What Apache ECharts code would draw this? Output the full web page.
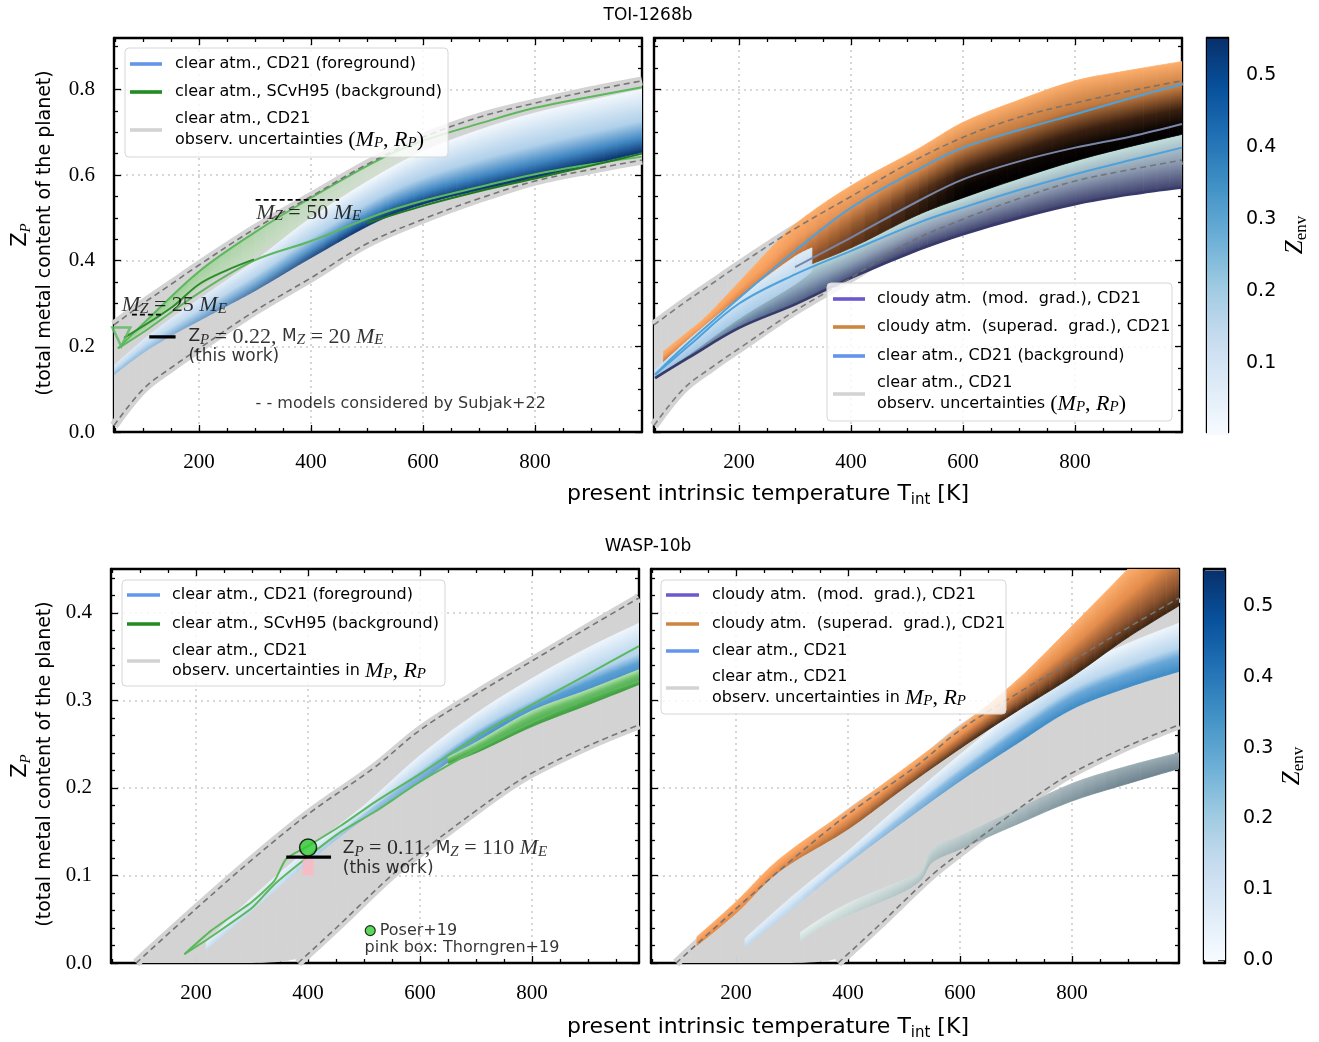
<!DOCTYPE html>
<html>
<head>
<meta charset="utf-8">
<title>TOI-1268b / WASP-10b</title>
<script src="https://cdn.jsdelivr.net/npm/echarts@6/dist/echarts.min.js"></script>
<style>
  html, body { margin: 0; padding: 0; background: #fff; }
  #chart { width: 1319px; height: 1042px; }
</style>
</head>
<body>
<div id="chart"></div>
<script>
  /******************/
  //region    //data

  // tick values
  const tempMajor = [200, 400, 600, 800];
  const tempMinor = [50, 100, 150, 250, 300, 350, 450, 500, 550, 650, 700, 750, 850, 900, 950];
  const zTopMajor = [0, 0.2, 0.4, 0.6, 0.8];
  const zTopMinor = [0.05, 0.1, 0.15, 0.25, 0.3, 0.35, 0.45, 0.5, 0.55, 0.65, 0.7, 0.75, 0.85, 0.9];
  const zBotMajor = [0, 0.1, 0.2, 0.3, 0.4];
  const zBotMinor = [0.02, 0.04, 0.06, 0.08, 0.12, 0.14, 0.16, 0.18, 0.22, 0.24, 0.26, 0.28, 0.32, 0.34, 0.36, 0.38, 0.42, 0.44];
  const zenvTopMajor = [0.1, 0.2, 0.3, 0.4, 0.5];
  const zenvBotMajor = [0, 0.1, 0.2, 0.3, 0.4, 0.5];
  const zenvMinor = [0.02, 0.04, 0.06, 0.08, 0.12, 0.14, 0.16, 0.18, 0.22, 0.24, 0.26, 0.28, 0.32, 0.34, 0.36, 0.38, 0.42, 0.44, 0.46, 0.48, 0.52, 0.54];

  // TOI-1268b: models considered by Subjak+22 (dashed) / observ. uncertainties
  const toiSubjakT = [48, 100, 150, 200, 300, 400, 500, 600, 700, 800, 900, 991];
  const toiSubjakHi = [0.25, 0.30, 0.345, 0.39, 0.475, 0.55, 0.625, 0.688, 0.735, 0.768, 0.797, 0.82];
  const toiSubjakLo = [0.015, 0.10, 0.15, 0.195, 0.283, 0.36, 0.44, 0.497, 0.545, 0.586, 0.613, 0.635];

  // TOI-1268b, left: clear atm. CD21 (foreground) family
  const toiClearT = [48, 100, 150, 200, 250, 300, 400, 520, 600, 700, 800, 900, 991];
  const toiClearHi = [0.155, 0.215, 0.265, 0.31, 0.355, 0.40, 0.50, 0.60, 0.655, 0.705, 0.745, 0.775, 0.80];
  const toiClearLo = [0.134, 0.185, 0.225, 0.26, 0.295, 0.33, 0.407, 0.493, 0.532, 0.565, 0.594, 0.625, 0.653];

  // TOI-1268b, left: SCvH95 (background)
  const toiScvhShadeT = [55, 108, 200, 298, 400, 520, 600];
  const toiScvhShadeHi = [0.195, 0.263, 0.375, 0.465, 0.547, 0.635, 0.68];
  const toiScvhShadeLo = [0.195, 0.245, 0.335, 0.41, 0.49, 0.57, 0.62];
  const toiScvhTopT = [55, 108, 200, 298, 400, 520, 600, 700, 800, 900, 991];
  const toiScvhTop = [0.195, 0.263, 0.375, 0.465, 0.547, 0.635, 0.68, 0.72, 0.757, 0.783, 0.805];
  const toiScvhLowT = [55, 108, 200, 298, 400, 520, 600, 700, 800, 900, 991];
  const toiScvhLow = [0.195, 0.24, 0.325, 0.40, 0.446, 0.508, 0.54, 0.572, 0.602, 0.625, 0.643];
  const toiScvhDarkT = [66, 150, 200, 250, 298];
  const toiScvhDark = [0.22, 0.29, 0.345, 0.378, 0.403];
  const toiScvhBotT = [500, 600, 700, 800, 900, 991];
  const toiScvhBot = [0.488, 0.528, 0.562, 0.592, 0.622, 0.65];

  // TOI-1268b reference levels
  const toiMz50T = [301, 450], toiMz50 = [0.542, 0.542];
  const toiMz25T = [80, 137], toiMz25 = [0.274, 0.274];
  const toiThisWorkT = [111, 158], toiThisWork = [0.222, 0.222];
  const toiScvhStart = [[61, 0.222]];

  // TOI-1268b, right: cloudy superad. grad.
  const toiSuperT = [65, 100, 139, 200, 250, 300, 400, 521, 600, 700, 800, 900, 991];
  const toiSuperHi = [0.188, 0.225, 0.267, 0.35, 0.42, 0.485, 0.575, 0.662, 0.723, 0.775, 0.82, 0.845, 0.865];
  const toiSuperLo = [0.16, 0.195, 0.235, 0.30, 0.34, 0.376, 0.43, 0.508, 0.547, 0.592, 0.633, 0.667, 0.695];
  // TOI-1268b, right: cloudy mod. grad.
  const toiModT = [50, 109, 200, 300, 400, 521, 600, 700, 800, 900, 991];
  const toiModHi = [0.14, 0.19, 0.28, 0.37, 0.43, 0.508, 0.547, 0.592, 0.633, 0.667, 0.695];
  const toiModLo = [0.126, 0.173, 0.243, 0.298, 0.36, 0.426, 0.462, 0.50, 0.532, 0.555, 0.571];
  const toiModTopT = [300, 400, 521, 600, 700, 800, 900, 991];
  const toiModTop = [0.385, 0.454, 0.54, 0.59, 0.632, 0.664, 0.69, 0.719];
  // TOI-1268b, right: clear atm. CD21 (background)
  const toiBgPaleT = [50, 109, 200, 300, 330];
  const toiBgPaleHi = [0.145, 0.215, 0.313, 0.41, 0.43];
  const toiBgPaleLo = [0.13, 0.18, 0.265, 0.345, 0.375];
  const toiBgUpT = [50, 80, 139, 200, 300, 400, 521, 600, 700, 800, 900, 991];
  const toiBgUp = [0.134, 0.173, 0.243, 0.313, 0.423, 0.524, 0.614, 0.664, 0.705, 0.742, 0.78, 0.812];
  const toiBgLowT = [50, 109, 200, 300, 400, 521, 600, 700, 800, 900, 991];
  const toiBgLow = [0.134, 0.20, 0.30, 0.368, 0.423, 0.489, 0.524, 0.565, 0.602, 0.635, 0.664];

  // WASP-10b: observ. uncertainties and the dashed bounds
  const waspDashHiT = [93, 200, 300, 400, 520, 600, 700, 800, 900, 991];
  const waspDashHi = [0.0, 0.062, 0.118, 0.17, 0.224, 0.266, 0.307, 0.345, 0.383, 0.417];
  const waspGrayLo = [0, 0, 0, 0.011, 0.083, 0.126, 0.174, 0.217, 0.248, 0.272];
  const waspDashLoT = [382, 450, 549, 600, 700, 757, 800, 900, 991];
  const waspDashLo = [0.0, 0.04, 0.1, 0.126, 0.174, 0.2, 0.217, 0.248, 0.272];

  // WASP-10b, left
  const waspClearT = [218, 300, 400, 500, 600, 700, 800, 900, 991];
  const waspClearHi = [0.024, 0.075, 0.13, 0.18, 0.237, 0.285, 0.325, 0.36, 0.388];
  const waspClearLo = [0.015, 0.06, 0.115, 0.165, 0.207, 0.25, 0.28, 0.305, 0.325];
  const waspScvhAT = [179, 227, 300, 340, 361, 401, 459, 520, 600, 700, 800, 900, 991];
  const waspScvhA = [0.01, 0.037, 0.07, 0.094, 0.119, 0.134, 0.157, 0.184, 0.216, 0.258, 0.295, 0.33, 0.362];
  const waspScvhBT = [179, 227, 300, 340, 401, 459, 520, 600, 700, 800, 900, 991];
  const waspScvhB = [0.01, 0.03, 0.063, 0.09, 0.122, 0.15, 0.173, 0.207, 0.243, 0.275, 0.302, 0.322];
  const waspScvhBandT = [650, 700, 800, 900, 991];
  const waspScvhBandHi = [0.235, 0.252, 0.288, 0.312, 0.335];
  const waspScvhBandLo = [0.228, 0.24, 0.27, 0.295, 0.318];
  const waspThisWorkT = [361, 441], waspThisWork = [0.121, 0.121];
  const waspPoser = [[400, 0.132]];
  const waspThorngrenT = [390, 410], waspThorngrenLo = [0.1, 0.1], waspThorngrenHi = [0.119, 0.119];

  // WASP-10b, right
  const waspSuperT = [130, 200, 276, 400, 500, 600, 700, 800, 900, 991];
  const waspSuperHi = [0.03, 0.07, 0.118, 0.175, 0.222, 0.27, 0.322, 0.385, 0.45, 0.51];
  const waspSuperLo = [0.02, 0.057, 0.104, 0.153, 0.2, 0.245, 0.287, 0.327, 0.372, 0.408];
  const waspClear2T = [216, 300, 400, 500, 600, 700, 800, 900, 991];
  const waspClear2Hi = [0.028, 0.076, 0.128, 0.184, 0.238, 0.29, 0.335, 0.365, 0.388];
  const waspClear2Lo = [0.018, 0.062, 0.114, 0.162, 0.208, 0.25, 0.29, 0.315, 0.333];
  const waspModT = [315, 350, 400, 450, 500, 530, 550, 600, 700, 800, 900, 991];
  const waspModHi = [0.035, 0.05, 0.068, 0.082, 0.095, 0.105, 0.13, 0.145, 0.175, 0.205, 0.225, 0.24];
  const waspModLo = [0.025, 0.04, 0.055, 0.068, 0.082, 0.095, 0.115, 0.13, 0.158, 0.185, 0.205, 0.222];

  // colour bar range (Z_env)
  const zenvRange = [0, 0.55];

  //endregion

  /******************/
  //region    //styles

  const SANS = 'DejaVu Sans', SERIF = 'Liberation Serif';
  const X_MIN = 48, X_MAX = 991;
  const SMOOTH = 0.35;
  const PIECES = 5;
  const BLUES = ['#f7fbff', '#deebf7', '#c6dbef', '#9ecae1', '#6baed6', '#4292c6', '#2171b5', '#08519c', '#08306b'];

  const RICH = {
    s: {fontFamily: SANS, fontSize: 16, lineHeight: 22, color: '#000', fill: '#000'},
    h: {fontFamily: SANS, fontSize: 17, lineHeight: 22, color: '#000', fill: '#000'},
    r: {fontFamily: SERIF, fontSize: 22, lineHeight: 22, color: '#000', fill: '#000'},
    i: {fontFamily: SERIF, fontSize: 22, fontStyle: 'italic', lineHeight: 22, color: '#000', fill: '#000'},
    sub: {fontFamily: SERIF, fontSize: 15, fontStyle: 'italic', lineHeight: 14, verticalAlign: 'bottom', color: '#000', fill: '#000'},
    t: {fontFamily: SANS, fontSize: 22, lineHeight: 28, color: '#000', fill: '#000'},
    tsub: {fontFamily: SANS, fontSize: 15, lineHeight: 16, verticalAlign: 'bottom', color: '#000', fill: '#000'},
    yl: {fontFamily: SANS, fontSize: 19, lineHeight: 26, color: '#000', fill: '#000'},
    yz: {fontFamily: SANS, fontSize: 21, lineHeight: 26, color: '#000', fill: '#000'},
    ysub: {fontFamily: SERIF, fontSize: 15, fontStyle: 'italic', lineHeight: 15, verticalAlign: 'bottom', color: '#000', fill: '#000'},
    ze: {fontFamily: SERIF, fontSize: 25, fontStyle: 'italic', lineHeight: 30, color: '#000', fill: '#000'},
    esub: {fontFamily: SERIF, fontSize: 17, lineHeight: 17, verticalAlign: 'bottom', color: '#000', fill: '#000'}
  };

  const flat = c => ({stops: [[0, c, c], [1, c, c]], from: 0, to: 1, seam: true});
  const LOOK = {
    gray: flat('#d3d3d3'),
    pink: {stops: [[0, 'rgba(255,182,193,0.8)', 'rgba(255,182,193,0.8)'], [1, 'rgba(255,182,193,0.8)', 'rgba(255,182,193,0.8)']], from: 0, to: 1},
    toiClear: {from: 120, to: 480, seam: true, stops: [[0, '#dbe9f6', '#f2f7fc'], [0.5, '#c4dbef', '#b0d0ea'], [0.78, '#a6c9e5', '#3f86c2'], [1, '#8fbcdf', '#08336e']]},
    toiScvh: {from: 100, to: 600, stops: [[0, 'rgba(120,200,110,0.75)', 'rgba(215,238,210,0.45)'], [1, 'rgba(160,215,150,0.7)', 'rgba(230,244,226,0.3)']]},
    toiSuper: {from: 250, to: 600, seam: true, stops: [[0, '#fdae6b', '#fdae6b'], [0.35, '#f7a060', '#c27a40'], [0.65, '#e08848', '#3a2010'], [0.85, '#c07038', '#0a0503'], [1, '#a85e2e', '#000000']]},
    toiMod: {from: 150, to: 500, seam: true, stops: [[0, '#aed3d8', '#c2e0dc'], [0.5, '#86a8bd', '#8e9cb2'], [1, '#5a7499', '#3c3f6c']]},
    toiPale: {from: 50, to: 330, seam: true, stops: [[0, '#cfe3f4', '#dfecf7'], [1, '#9cc4e4', '#b4d2ea']]},
    waspClear: {from: 350, to: 750, seam: true, stops: [[0, '#e6f0f9', '#eef5fc'], [0.55, '#d6e6f4', '#b4d3ec'], [0.72, '#cfe2f3', '#5a9fd3'], [1, '#c5dcf0', '#3a87c3']]},
    waspScvh: {from: 0, to: 1, seam: true, stops: [[0, '#b2dfaa', '#b2dfaa'], [0.35, '#6cc06a', '#6cc06a'], [1, '#3f9f3f', '#3f9f3f']]},
    waspSuper: {from: 250, to: 650, seam: true, stops: [[0, '#fdae6b', '#fdb070'], [0.4, '#f9a060', '#e48c4b'], [0.75, '#ee9450', '#8e5530'], [1, '#e68a45', '#3e2512']]},
    waspClear2: {from: 300, to: 700, seam: true, stops: [[0, '#e3eef8', '#eef5fb'], [0.5, '#d4e5f4', '#b9d6ed'], [0.7, '#c9dff2', '#6aa8d8'], [1, '#bfd8ef', '#3d8bc6']]},
    waspMod: {from: 350, to: 900, seam: true, stops: [[0, '#e4eeeb', '#9aabb3'], [1, '#cadcd8', '#6d838f']]}
  };

  const grids = [
    {left: 114, top: 38, width: 528, height: 394},
    {left: 654, top: 38, width: 528, height: 394},
    {left: 111, top: 569, width: 528, height: 394},
    {left: 651, top: 569, width: 528, height: 394},
    {left: 1207, top: 38, width: 21, height: 394},
    {left: 1204, top: 569, width: 21, height: 394}
  ];

  //endregion

  /******************/
  //region    //axes

  const xAxes = [], yAxes = [];

  function axisDef(gi, pos, min, max, tickVals, tickLen, showLine, labelVals, fmt, labelFont, split) {
    return {
      gridIndex: gi, type: 'value', position: pos, min, max,
      axisLine: {show: showLine, onZero: false, lineStyle: {color: '#000', width: 2.4}},
      axisTick: {show: tickVals.length > 0, inside: true, length: tickLen, customValues: tickVals, lineStyle: {color: '#000', width: 1.3}},
      axisLabel: labelVals ? {
        show: true, customValues: labelVals, formatter: fmt, margin: labelFont.margin, color: '#000',
        fontFamily: labelFont.family, fontSize: labelFont.size
      } : {show: false},
      splitLine: {show: !!split, lineStyle: {color: '#cccccc', width: 1.6, type: [2, 4]}}
    };
  }

  const fmtT = v => String(Math.round(v));
  const fmtZ = v => v.toFixed(1);
  const serifX = {family: SERIF, size: 21, margin: 20};
  const serifY = {family: SERIF, size: 21, margin: 19};
  const sansCb = {family: SANS, size: 19, margin: 18};

  function panelAxes(gi, yMax, yMaj, yMnr, yLabels) {
    xAxes.push(axisDef(gi, 'bottom', X_MIN, X_MAX, tempMajor, 7, true, tempMajor, fmtT, serifX, true));
    xAxes.push(axisDef(gi, 'bottom', X_MIN, X_MAX, tempMinor, 4, false, null));
    xAxes.push(axisDef(gi, 'top', X_MIN, X_MAX, tempMajor, 7, true, null));
    xAxes.push(axisDef(gi, 'top', X_MIN, X_MAX, tempMinor, 4, false, null));
    yAxes.push(axisDef(gi, 'left', 0, yMax, yMaj, 7, true, yLabels ? yMaj : null, fmtZ, serifY, true));
    yAxes.push(axisDef(gi, 'left', 0, yMax, yMnr, 4, false, null));
    yAxes.push(axisDef(gi, 'right', 0, yMax, yMaj, 7, true, null));
    yAxes.push(axisDef(gi, 'right', 0, yMax, yMnr, 4, false, null));
  }

  panelAxes(0, 0.92, zTopMajor, zTopMinor, true);
  panelAxes(1, 0.92, zTopMajor, zTopMinor, false);
  panelAxes(2, 0.45, zBotMajor, zBotMinor, true);
  panelAxes(3, 0.45, zBotMajor, zBotMinor, false);

  const cbAxis = [];
  function colorbarAxes(gi, yMin, yMax, majors) {
    const xi = xAxes.length, yi = yAxes.length;
    xAxes.push(axisDef(gi, 'bottom', 0, 1, [], 0, true, null));
    xAxes.push(axisDef(gi, 'top', 0, 1, [], 0, true, null));
    yAxes.push(axisDef(gi, 'right', yMin, yMax, majors, 7, true, majors, fmtZ, sansCb));
    yAxes.push(axisDef(gi, 'right', yMin, yMax, zenvMinor, 4, false, null));
    yAxes.push(axisDef(gi, 'left', yMin, yMax, [], 0, true, null));
    cbAxis.push({xi, yi});
  }
  colorbarAxes(4, 0.004, 0.551, zenvTopMajor);
  colorbarAxes(5, -0.004, 0.552, zenvBotMajor);

  //endregion

  /******************/
  //region    //series

  const series = [];
  const onPanel = gi => ({xAxisIndex: gi * 4, yAxisIndex: gi * 4});

  // bezier control points, same rule as the line series smoothing
  function ctrl(P, i) {
    const n = P.length;
    const seg = (a, b) => Math.hypot(b[0] - a[0], b[1] - a[1]);
    let c1 = P[i], c2 = P[i + 1];
    if (i > 0) {
      const v = [P[i + 1][0] - P[i - 1][0], P[i + 1][1] - P[i - 1][1]];
      const d0 = seg(P[i - 1], P[i]), d1 = seg(P[i], P[i + 1]);
      const k = SMOOTH * d1 / (d0 + d1 || 1);
      c1 = [P[i][0] + v[0] * k, P[i][1] + v[1] * k];
    }
    if (i + 2 < n) {
      const v = [P[i + 2][0] - P[i][0], P[i + 2][1] - P[i][1]];
      const d0 = seg(P[i], P[i + 1]), d1 = seg(P[i + 1], P[i + 2]);
      const k = SMOOTH * d0 / (d0 + d1 || 1);
      c2 = [P[i + 1][0] - v[0] * k, P[i + 1][1] - v[1] * k];
    }
    return [c1, c2];
  }

  function bez(p0, c1, c2, p3, t) {
    const u = 1 - t;
    const pt = [0, 1].map(k => u * u * u * p0[k] + 3 * u * u * t * c1[k] + 3 * u * t * t * c2[k] + t * t * t * p3[k]);
    const dv = [0, 1].map(k => 3 * u * u * (c1[k] - p0[k]) + 6 * u * t * (c2[k] - c1[k]) + 3 * t * t * (p3[k] - c2[k]));
    return [pt, dv];
  }
  function subCurve(p0, c1, c2, p3, t0, t1) {
    const [a, da] = bez(p0, c1, c2, p3, t0), [b, db] = bez(p0, c1, c2, p3, t1);
    const h = (t1 - t0) / 3;
    return [a, [a[0] + da[0] * h, a[1] + da[1] * h], [b[0] - db[0] * h, b[1] - db[1] * h], b];
  }

  function bandPiece(params, api, T, lo, hi, look) {
    const i = params.dataIndex;
    const LO = T.map((t, k) => api.coord([t, lo[k]]));
    const HI = T.map((t, k) => api.coord([t, hi[k]]));
    const cl = ctrl(LO, i), ch = ctrl(HI, i);
    const fromPx = api.coord([look.from, 0])[0], toPx = api.coord([look.to, 0])[0];
    const p = q => q[0].toFixed(2) + ' ' + q[1].toFixed(2);
    const children = [];
    for (let j = 0; j < PIECES; j++) {
      const t0 = j / PIECES, t1 = (j + 1) / PIECES;
      const L = subCurve(LO[i], cl[0], cl[1], LO[i + 1], t0, t1);
      const U = subCurve(HI[i], ch[0], ch[1], HI[i + 1], t0, t1);
      const a = L[0], b = L[3], c = U[3], d = U[0];
      const xm = (a[0] + b[0] + c[0] + d[0]) / 4;
      let f = (xm - fromPx) / ((toPx - fromPx) || 1);
      f = Math.max(0, Math.min(1, f));
      const stops = look.stops.map(s => ({offset: s[0], color: echarts.color.lerp(f, [s[1], s[2]])}));
      const topMid = [(c[0] + d[0]) / 2, (c[1] + d[1]) / 2];
      const botMid = [(a[0] + b[0]) / 2, (a[1] + b[1]) / 2];
      const ux = ((b[0] + c[0]) - (a[0] + d[0])) / 2, uy = ((b[1] + c[1]) - (a[1] + d[1])) / 2;
      const ul = Math.hypot(ux, uy) || 1;
      const nx = -uy / ul, ny = ux / ul;
      let w = (botMid[0] - topMid[0]) * nx + (botMid[1] - topMid[1]) * ny;
      if (Math.abs(w) < 0.5) w = 0.5;
      const grad = new echarts.graphic.LinearGradient(topMid[0], topMid[1], topMid[0] + nx * w, topMid[1] + ny * w, stops, true);
      const path = 'M' + p(a) + ' C' + p(L[1]) + ' ' + p(L[2]) + ' ' + p(b) +
        ' L' + p(c) + ' C' + p(U[2]) + ' ' + p(U[1]) + ' ' + p(d) + ' Z';
      children.push({
        type: 'path', shape: {pathData: path},
        style: {fill: grad, stroke: look.seam ? grad : null, lineWidth: look.seam ? 0.8 : 0}
      });
    }
    return {type: 'group', children};
  }

  function addBand(gi, T, lo, hi, look, z) {
    const data = [];
    for (let i = 0; i + 1 < T.length; i++) data.push([T[i], lo[i], hi[i], T[i + 1], lo[i + 1], hi[i + 1]]);
    series.push({
      type: 'custom', ...onPanel(gi), z, silent: true, clip: true,
      encode: {x: [0, 3], y: [1, 2, 4, 5]},
      renderItem: (params, api) => bandPiece(params, api, T, lo, hi, look),
      data
    });
  }

  function addLine(gi, T, Z, color, width, z, dash, smooth) {
    series.push({
      type: 'line', ...onPanel(gi), z, silent: true, clip: true, symbol: 'none',
      smooth: smooth === undefined ? SMOOTH : smooth,
      lineStyle: {color, width, type: dash || 'solid'},
      data: T.map((t, i) => [t, Z[i]])
    });
  }

  function addText(gi, pt, text, z) {
    series.push({
      type: 'scatter', ...onPanel(gi), z: z || 9, silent: true, symbolSize: 1,
      itemStyle: {color: 'rgba(0,0,0,0)'},
      label: {show: true, position: 'right', distance: 0, formatter: text, rich: RICH},
      data: [pt]
    });
  }

  function addDashedBounds(gi, tHi, hi, tLo, lo) {
    addLine(gi, tHi, hi, '#d3d3d3', 9, 2);
    addLine(gi, tLo, lo, '#d3d3d3', 9, 2);
  }
  function addDashes(gi, tHi, hi, tLo, lo, color) {
    addLine(gi, tHi, hi, color, 1.6, 7, [6, 4]);
    addLine(gi, tLo, lo, color, 1.6, 7, [6, 4]);
  }

  // colour bars
  [0, 1].forEach(c => {
    series.push({
      type: 'custom', xAxisIndex: cbAxis[c].xi, yAxisIndex: cbAxis[c].yi, silent: true, z: 1,
      renderItem: (params, api) => {
        const p0 = api.coord([0, api.value(0)]), p1 = api.coord([1, api.value(1)]);
        return {
          type: 'rect', shape: {x: p0[0], y: p1[1], width: p1[0] - p0[0], height: p0[1] - p1[1]},
          style: {fill: new echarts.graphic.LinearGradient(0, 1, 0, 0, BLUES.map((col, i) => ({offset: i / (BLUES.length - 1), color: col})))}
        };
      },
      data: [zenvRange]
    });
  });

  // --- panel 0: TOI-1268b, clear atm. ---
  addBand(0, toiSubjakT, toiSubjakLo, toiSubjakHi, LOOK.gray, 1);
  addDashedBounds(0, toiSubjakT, toiSubjakHi, toiSubjakT, toiSubjakLo);
  addBand(0, toiScvhShadeT, toiScvhShadeLo, toiScvhShadeHi, LOOK.toiScvh, 3);
  addBand(0, toiClearT, toiClearLo, toiClearHi, LOOK.toiClear, 4);
  addLine(0, toiScvhTopT, toiScvhTop, '#5cb85c', 2, 5);
  addLine(0, toiScvhLowT, toiScvhLow, '#5cb85c', 2, 5);
  addLine(0, toiScvhDarkT, toiScvhDark, '#2e8b2e', 2, 5);
  addLine(0, toiScvhBotT, toiScvhBot, '#1e7a1e', 2, 5);
  addDashes(0, toiSubjakT, toiSubjakHi, toiSubjakT, toiSubjakLo, '#757575');
  addLine(0, toiMz50T, toiMz50, '#000', 1.8, 8, [5, 3], false);
  addLine(0, toiMz25T, toiMz25, '#000', 1.8, 8, [5, 3], false);
  addLine(0, toiThisWorkT, toiThisWork, '#000', 3.2, 8, null, false);
  series.push({
    type: 'scatter', ...onPanel(0), z: 8, silent: true, symbol: 'triangle', symbolRotate: 180, symbolSize: [18, 19],
    itemStyle: {color: 'rgba(0,0,0,0)', borderColor: '#5cb85c', borderWidth: 2.5}, data: toiScvhStart
  });
  addText(0, [301, 0.512], '{i|M}{sub|Z}{r| = 50 }{i|M}{sub|E}');
  addText(0, [61, 0.296], '{i|M}{sub|Z}{r| = 25 }{i|M}{sub|E}');
  addText(0, [180, 0.222], '{h|Z}{sub|P}{r| = 0.22, }{h|M}{sub|Z}{r| = 20 }{i|M}{sub|E}');
  addText(0, [180, 0.176], '{h|(this work)}');
  addText(0, [300, 0.066], '{s|- - models considered by Subjak+22}');

  // --- panel 1: TOI-1268b, cloudy atm. ---
  addBand(1, toiSubjakT, toiSubjakLo, toiSubjakHi, LOOK.gray, 1);
  addDashedBounds(1, toiSubjakT, toiSubjakHi, toiSubjakT, toiSubjakLo);
  addBand(1, toiModT, toiModLo, toiModHi, LOOK.toiMod, 3);
  addBand(1, toiSuperT, toiSuperLo, toiSuperHi, LOOK.toiSuper, 4);
  addBand(1, toiBgPaleT, toiBgPaleLo, toiBgPaleHi, LOOK.toiPale, 5);
  addLine(1, toiModT, toiModLo, '#383b6a', 2.6, 6);
  addLine(1, toiModTopT, toiModTop, '#7a86a8', 2, 6);
  addLine(1, toiBgUpT, toiBgUp, '#4ea2dc', 2, 6);
  addLine(1, toiBgLowT, toiBgLow, '#4ea2dc', 2, 6);
  addDashes(1, toiSubjakT, toiSubjakHi, toiSubjakT, toiSubjakLo, 'rgba(110,110,110,0.85)');

  // --- panel 2: WASP-10b, clear atm. ---
  addBand(2, waspDashHiT, waspGrayLo, waspDashHi, LOOK.gray, 1);
  addDashedBounds(2, waspDashHiT, waspDashHi, waspDashLoT, waspDashLo);
  addBand(2, waspClearT, waspClearLo, waspClearHi, LOOK.waspClear, 3);
  addBand(2, waspScvhBandT, waspScvhBandLo, waspScvhBandHi, LOOK.waspScvh, 4);
  addLine(2, waspScvhAT, waspScvhA, '#5cb85c', 2, 5, null, 0.2);
  addLine(2, waspScvhBT, waspScvhB, '#5cb85c', 2, 5, null, 0.2);
  addDashes(2, waspDashHiT, waspDashHi, waspDashLoT, waspDashLo, '#757575');
  addBand(2, waspThorngrenT, waspThorngrenLo, waspThorngrenHi, LOOK.pink, 8);
  addLine(2, waspThisWorkT, waspThisWork, '#000', 3.2, 9, null, false);
  series.push({
    type: 'scatter', ...onPanel(2), z: 10, silent: true, symbol: 'circle', symbolSize: 17,
    itemStyle: {color: '#32cd32', borderColor: '#000', borderWidth: 1.5}, data: waspPoser
  });
  addText(2, [461, 0.131], '{h|Z}{sub|P}{r| = 0.11, }{h|M}{sub|Z}{r| = 110 }{i|M}{sub|E}');
  addText(2, [461, 0.108], '{h|(this work)}');
  series.push({
    type: 'scatter', ...onPanel(2), z: 10, silent: true, symbol: 'circle', symbolSize: 10,
    itemStyle: {color: '#32cd32', borderColor: '#000', borderWidth: 1.2}, data: [[511, 0.037]]
  });
  addText(2, [527, 0.037], '{s|Poser+19}');
  addText(2, [500, 0.0175], '{s|pink box: Thorngren+19}');

  // --- panel 3: WASP-10b, cloudy atm. ---
  addBand(3, waspDashHiT, waspGrayLo, waspDashHi, LOOK.gray, 1);
  addDashedBounds(3, waspDashHiT, waspDashHi, waspDashLoT, waspDashLo);
  addBand(3, waspModT, waspModLo, waspModHi, LOOK.waspMod, 3);
  addBand(3, waspClear2T, waspClear2Lo, waspClear2Hi, LOOK.waspClear2, 4);
  addBand(3, waspSuperT, waspSuperLo, waspSuperHi, LOOK.waspSuper, 5);
  addDashes(3, waspDashHiT, waspDashHi, waspDashLoT, waspDashLo, '#757575');

  //endregion

  /******************/
  //region    //graphic: legends and titles

  const graphic = [];
  function gText(x, y, text, opts) {
    graphic.push(Object.assign({
      type: 'text', x, y, z: 100, silent: true,
      style: {text, rich: RICH, align: 'left', verticalAlign: 'middle', fill: '#000'}
    }, opts || {}));
  }

  function legendBox(box, iconX, textX, items) {
    graphic.push({
      type: 'rect', z: 90, silent: true,
      shape: {x: box[0], y: box[1], width: box[2], height: box[3], r: 4},
      style: {fill: 'rgba(255,255,255,0.82)', stroke: '#d6d6d6', lineWidth: 1}
    });
    items.forEach(it => {
      graphic.push({
        type: 'line', z: 95, silent: true,
        shape: {x1: iconX[0], y1: it.iy, x2: iconX[1], y2: it.iy},
        style: {stroke: it.color, lineWidth: 3.6}
      });
      it.lines.forEach(l => gText(textX, l[0], l[1]));
    });
  }

  const uncertaintyParen = '{s|observ. uncertainties }{r|(}{i|M}{sub|P}{r|, }{i|R}{sub|P}{r|)}';
  const uncertaintyIn = '{s|observ. uncertainties in }{i|M}{sub|P}{r|, }{i|R}{sub|P}';

  legendBox([125, 48, 323, 109], [130, 162], 175, [
    {iy: 64, color: '#6495ed', lines: [[64, '{s|clear atm., CD21 (foreground)}']]},
    {iy: 92, color: '#228b22', lines: [[92, '{s|clear atm., SCvH95 (background)}']]},
    {iy: 130, color: '#d3d3d3', lines: [[119, '{s|clear atm., CD21}'], [140, uncertaintyParen]]}
  ]);
  legendBox([827, 283, 345, 138], [833, 865], 877, [
    {iy: 299, color: '#6a5acd', lines: [[299, '{s|cloudy atm.  (mod.  grad.), CD21}']]},
    {iy: 327, color: '#cd853f', lines: [[327, '{s|cloudy atm.  (superad.  grad.), CD21}']]},
    {iy: 356, color: '#6495ed', lines: [[356, '{s|clear atm., CD21 (background)}']]},
    {iy: 394, color: '#d3d3d3', lines: [[383, '{s|clear atm., CD21}'], [404, uncertaintyParen]]}
  ]);
  legendBox([122, 580, 323, 106], [127, 160], 172, [
    {iy: 595, color: '#6495ed', lines: [[595, '{s|clear atm., CD21 (foreground)}']]},
    {iy: 624, color: '#228b22', lines: [[624, '{s|clear atm., SCvH95 (background)}']]},
    {iy: 661, color: '#d3d3d3', lines: [[651, '{s|clear atm., CD21}'], [671, uncertaintyIn]]}
  ]);
  legendBox([661, 580, 345, 134], [666, 699], 712, [
    {iy: 595, color: '#6a5acd', lines: [[595, '{s|cloudy atm.  (mod.  grad.), CD21}']]},
    {iy: 624, color: '#cd853f', lines: [[624, '{s|cloudy atm.  (superad.  grad.), CD21}']]},
    {iy: 651, color: '#6495ed', lines: [[651, '{s|clear atm., CD21}']]},
    {iy: 688, color: '#d3d3d3', lines: [[677, '{s|clear atm., CD21}'], [698, uncertaintyIn]]}
  ]);

  // titles and axis names
  const centered = {align: 'center', verticalAlign: 'middle'};
  gText(648, 16, '', {style: Object.assign({text: '{h|TOI-1268b}', rich: RICH}, centered)});
  gText(648, 547, '', {style: Object.assign({text: '{h|WASP-10b}', rich: RICH}, centered)});
  [494, 1027].forEach(y => {
    const txt = '{t|present intrinsic temperature T}{tsub|int}{t| [K]}';
    gText(768, y, txt, {style: Object.assign({text: txt, rich: RICH}, centered)});
  });
  [235, 766].forEach(y => {
    const zp = '{yz|Z}{ysub|P}';
    gText(21, y, zp, {rotation: Math.PI / 2, style: Object.assign({text: zp, rich: RICH}, centered)});
    const desc = '{yl|(total metal content of the planet)}';
    gText(45, y - 2, desc, {rotation: Math.PI / 2, style: Object.assign({text: desc, rich: RICH}, centered)});
  });
  [[1295, 235], [1292, 766]].forEach(p => {
    const ze = '{ze|Z}{esub|env}';
    gText(p[0], p[1], ze, {rotation: Math.PI / 2, style: Object.assign({text: ze, rich: RICH}, centered)});
  });

  //endregion

  /******************/
  //region    //render

  const chart = echarts.init(document.getElementById('chart'), null, {renderer: 'canvas'});
  chart.setOption({
    animation: false,
    backgroundColor: '#ffffff',
    grid: grids.map(g => Object.assign({containLabel: false, show: false}, g)),
    xAxis: xAxes,
    yAxis: yAxes,
    series,
    graphic
  });

  //endregion
</script>
</body>
</html>
